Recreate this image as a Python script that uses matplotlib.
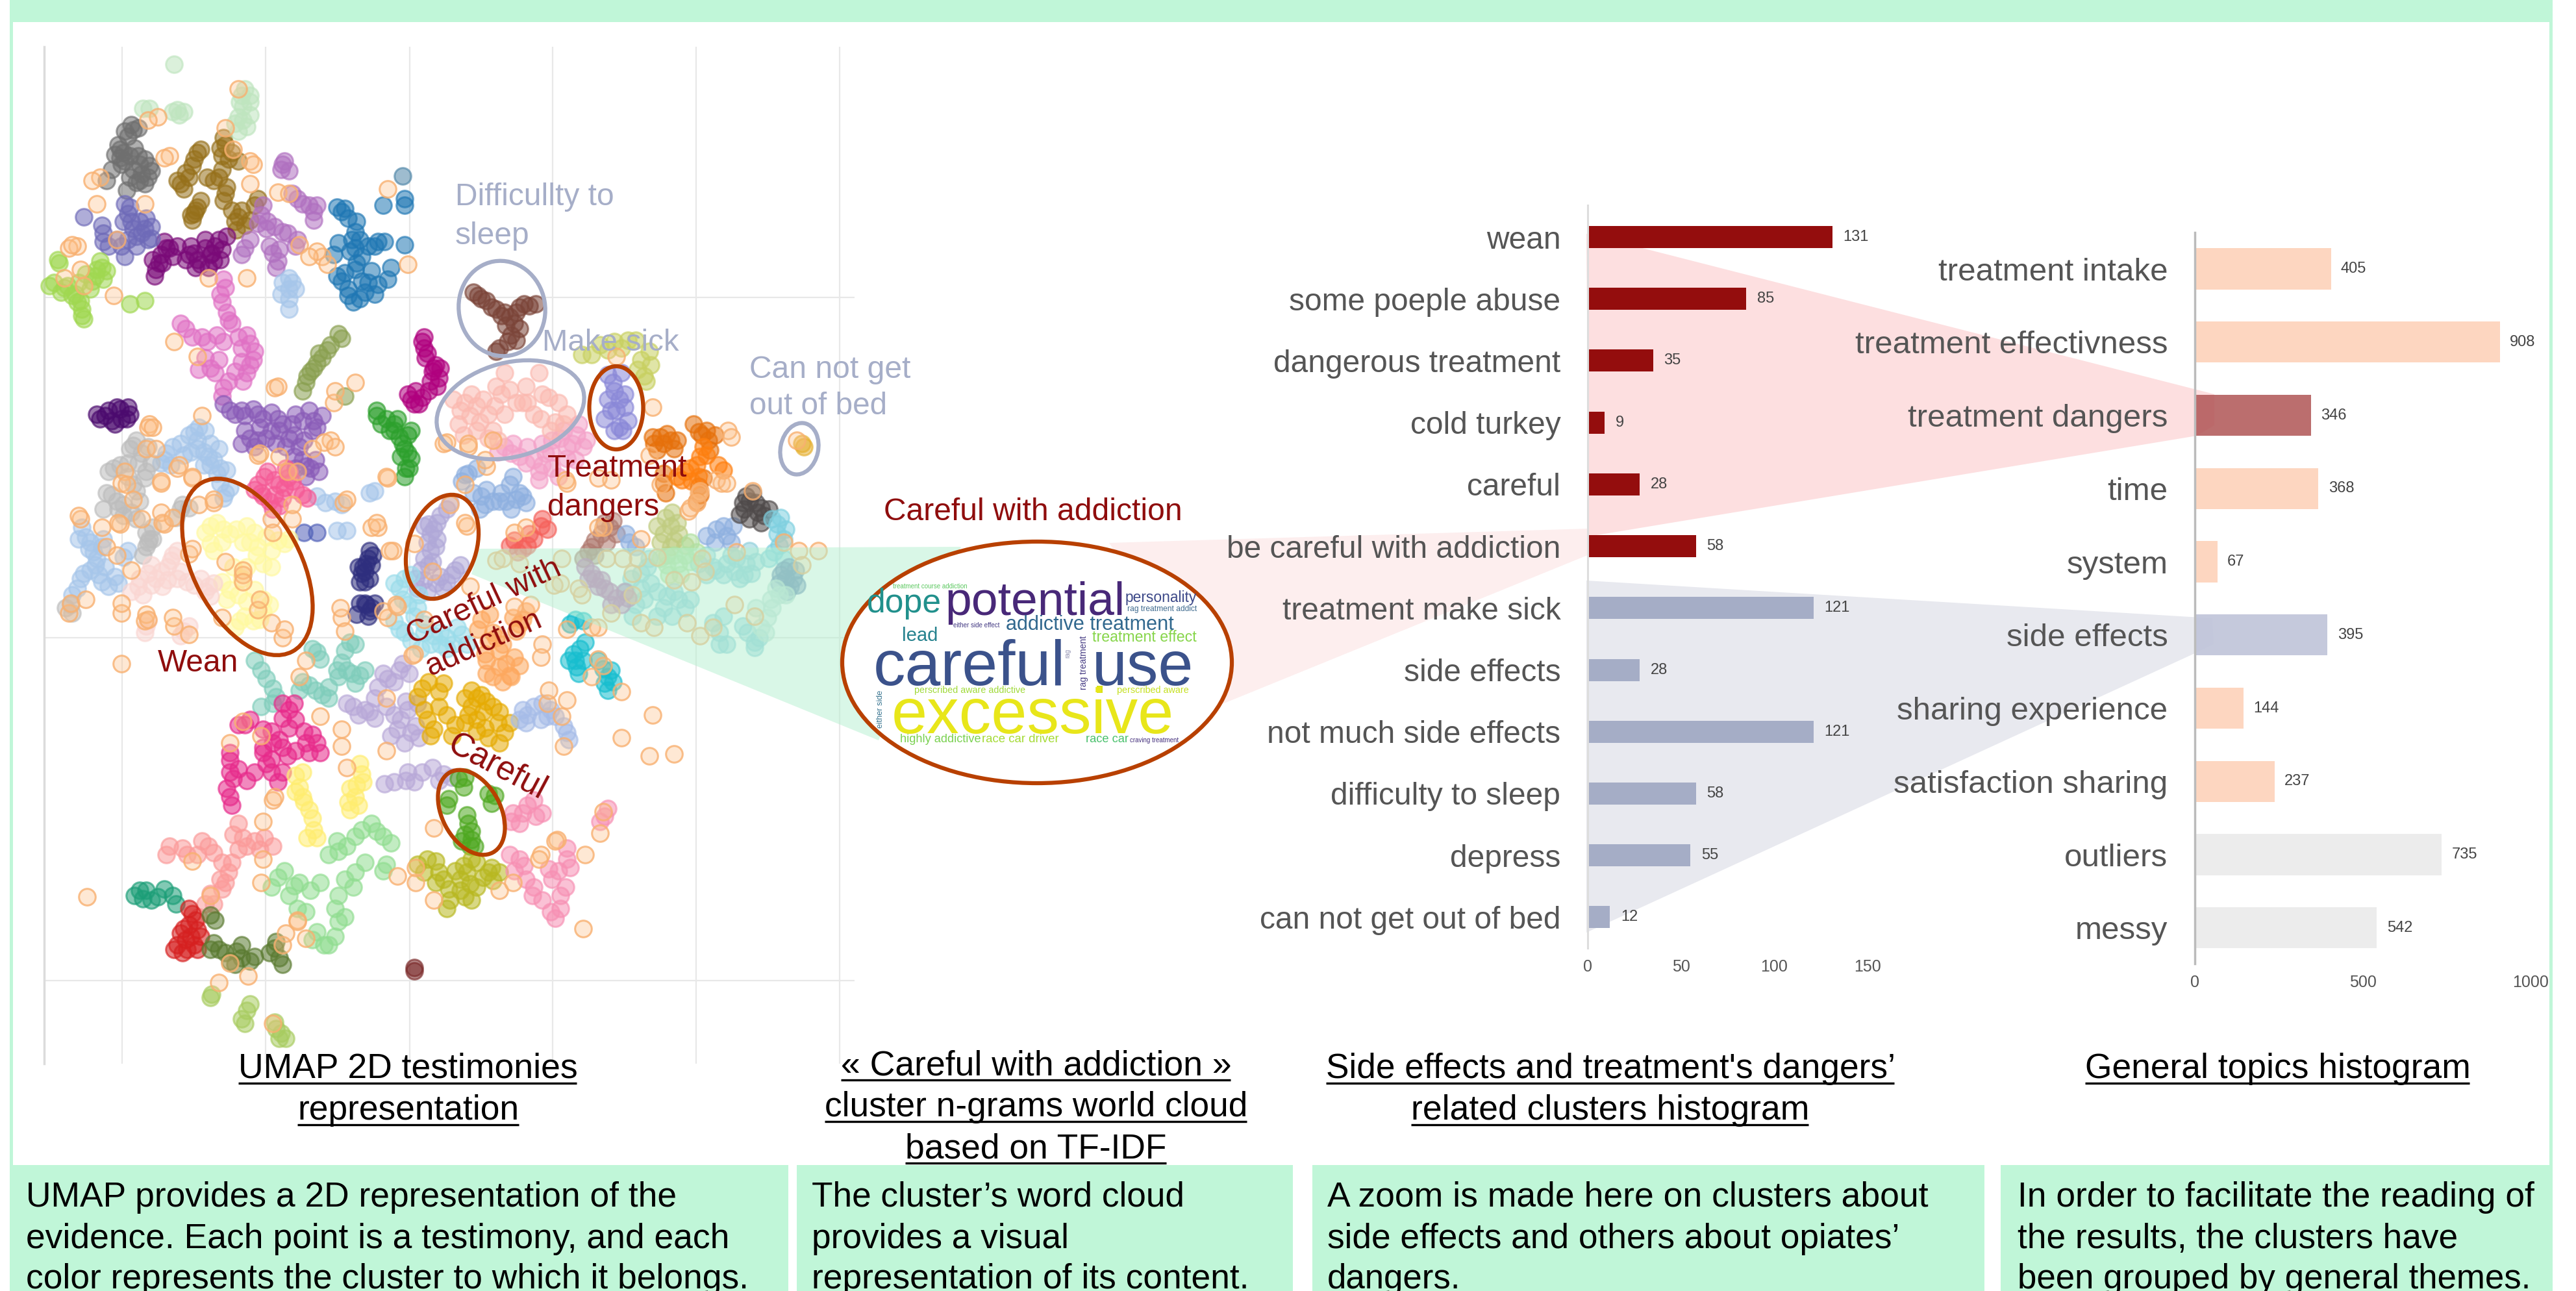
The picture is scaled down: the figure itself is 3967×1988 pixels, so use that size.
import matplotlib
matplotlib.use("Agg")
import matplotlib.pyplot as plt
from matplotlib.colors import to_rgba
from matplotlib.patches import Ellipse, Polygon, Rectangle

plt.rcParams['font.family'] = ['Liberation Sans', 'DejaVu Sans']

W, H = 3967, 1988

# umap clusters
gray_dark = [(81,79),(78,83),(73,91),(76,98),(81,103),(86,106),(83,111),(91,101),(73,96),(88,112),(82,90),(85,100),(80,76),(84,78),(76,80),(72,88),(70,94),(75,93),(79,95),(84,95),(88,97),(92,104),(79,108),(85,110),(90,108),(74,100),(68,103),(65,110),(77,116)]
gold_brown = [(120,93),(117,101),(110,112),(130,110),(137,88),(139,97),(145,98),(137,118),(120,126),(117,134),(145,132),(149,137),(157,121),(135,95),(115,108),(143,135),(118,130),(118,97),(122,91),(113,105),(108,110),(112,115),(126,108),(133,108),(136,84),(134,90),(141,93),(135,103),(138,114),(136,122),(122,122),(119,128),(116,131),(141,128),(147,128),(152,134),(155,125),(144,140)]
dark_magenta = [(101,151),(95,164),(105,156),(118,154),(125,151),(133,146),(130,159),(122,161),(98,155),(108,150),(113,158),(128,155),(135,152),(97,160),(93,158),(94,168),(100,147),(99,160),(103,151),(116,150),(120,158),(125,146),(131,150),(129,154),(134,158),(138,144),(127,163),(119,163),(115,155)]
slate_purple = [(51,132),(62,137),(63,147),(76,124),(78,130),(78,146),(88,139),(90,146),(76,156),(83,144),(85,135),(92,138),(80,135),(81,139),(86,142),(83,150),(74,150),(71,146),(89,133),(92,145),(79,126),(75,135),(63,142),(66,150)]
orchid = [(172,100),(173,98),(171,103),(181,121),(191,129),(191,134),(159,131),(162,139),(172,141),(149,151),(166,154),(169,159),(181,146),(157,136),(176,104),(178,118),(184,124),(188,125),(193,125),(160,125),(163,135),(167,138),(175,142),(180,150),(152,146),(147,155),(164,150),(170,152),(168,163)]
blue = [(208,129),(216,141),(216,151),(233,125),(246,125),(203,155),(230,147),(246,149),(220,156),(208,171),(220,171),(238,163),(230,173),(215,184),(228,179),(216,164),(222,178),(212,176),(224,150),(217,135),(205,126),(210,127),(212,133),(214,146),(219,146),(213,153),(206,148),(217,160),(210,166),(205,168),(212,180),(224,172),(219,182),(226,165),(236,170),(234,147),(228,150),(246,121)]
steel = [(245,107)]
light_blue = [(176,169),(176,176),(171,179),(176,188),(178,172),(110,270),(120,268),(128,270),(133,273),(127,278),(134,285),(137,300),(101,276),(98,282),(124,283),(115,265),(125,262),(225,300),(228,299),(193,302),(198,306),(204,305),(208,307),(205,323),(211,323),(50,321),(54,334),(58,344),(51,349),(62,354),(70,351),(75,339),(63,328),(59,340),(47,358),(105,272),(112,277),(116,275),(120,273),(124,275),(130,280),(128,283),(132,288),(138,286),(136,303),(140,297),(134,294),(118,263),(121,260),(100,280),(104,283),(52,327),(55,330),(57,336),(60,350),(49,352),(55,347),(64,345),(66,357),(72,355),(62,333),(78,335),(48,328),(44,362),(176,182),(172,172),(180,176)]
lime = [(35,158),(36,160),(59,164),(56,171),(63,170),(30,174),(39,175),(47,184),(51,194),(79,185),(88,183),(62,163),(52,167),(44,180),(50,188),(33,172),(37,178),(41,174),(46,179),(49,183),(50,192),(58,168),(61,159),(65,165),(55,176),(48,172)]
pale_green = [(106,39),(91,66),(108,67),(112,68),(147,58),(152,58),(145,71),(150,77),(148,65),(87,66),(105,68),(109,70),(149,54),(146,62),(152,62),(143,75),(148,73),(152,70),(145,80)]
pink_orchid = [(137,175),(135,184),(139,195),(110,197),(123,205),(132,204),(150,204),(152,209),(154,219),(128,224),(133,219),(150,227),(139,232),(135,241),(136,170),(134,179),(138,190),(141,197),(113,200),(117,205),(126,208),(136,208),(145,205),(147,212),(155,214),(147,220),(152,222),(125,218),(121,225),(131,227),(136,236),(143,226),(148,232)]
olive = [(206,203),(201,210),(196,218),(191,224),(187,229),(184,238),(210,241),(208,206),(199,213),(193,221),(189,226),(186,233),(194,215)]
deep_purple = [(64,253),(71,248),(79,252),(74,255),(68,256),(61,255),(66,250),(73,249),(77,255),(70,258),(78,248),(59,252)]
med_purple = [(140,250),(149,253),(157,252),(169,255),(184,256),(191,256),(196,253),(152,267),(162,267),(176,267),(182,272),(184,280),(189,285),(170,262),(178,258),(158,260),(190,262),(186,290),(136,246),(143,252),(147,250),(154,249),(160,255),(165,251),(172,258),(180,252),(188,250),(193,260),(149,262),(147,270),(155,272),(165,262),(168,270),(174,272),(179,265),(185,268),(179,278),(180,285),(186,284),(192,280),(194,287),(157,268)]
silver = [(81,271),(86,276),(69,285),(84,282),(89,287),(81,295),(68,301),(63,310),(75,307),(80,312),(89,324),(89,333),(110,310),(93,328),(43,368),(83,268),(79,273),(90,272),(73,283),(66,287),(78,282),(92,282),(88,291),(83,299),(78,290),(71,305),(75,314),(65,300),(72,310),(83,316),(85,305),(91,328),(93,321),(87,338),(90,330),(107,315),(111,307),(115,309),(44,373),(40,370)]
hot_pink = [(157,295),(161,290),(175,291),(173,297),(167,301),(184,301),(164,305),(170,295),(155,298),(159,300),(163,287),(167,292),(176,287),(178,293),(172,303),(180,298),(187,303),(166,310),(170,308),(160,302),(174,285)]
royal = [(185,324),(193,324)]
pale_yellow = [(128,320),(128,331),(140,325),(155,324),(157,333),(173,331),(160,343),(142,345),(140,359),(155,359),(146,378),(160,372),(154,378),(135,330),(148,330),(125,324),(132,318),(130,335),(136,322),(144,322),(150,320),(152,330),(162,327),(165,335),(169,329),(176,328),(156,338),(165,345),(150,345),(147,352),(135,354),(138,365),(145,362),(150,366),(160,365),(143,382),(149,375),(158,377),(164,368)]
pale_pink = [(84,357),(90,349),(102,345),(105,338),(102,353),(114,354),(127,357),(128,363),(89,381),(112,384),(95,352),(110,348),(80,360),(85,352),(92,356),(98,348),(99,357),(104,341),(108,335),(108,352),(118,356),(122,352),(125,360),(130,355),(87,362),(88,385),(90,378),(110,387),(115,381),(92,344)]
navy = [(225,335),(223,343),(220,349),(222,354),(224,340),(222,348),(223,368),(217,374),(225,372),(222,367),(227,338),(221,345),(219,354),(226,344),(218,345),(225,352),(226,370),(219,367),(224,375),(228,367)]
lilac_blue = [(272,310),(261,319),(262,325),(262,335),(256,347),(258,353),(277,347),(272,354),(266,328),(268,351),(268,314),(274,306),(264,322),(258,320),(266,318),(260,330),(265,333),(258,340),(263,342),(253,352),(254,358),(260,360),(275,350),(280,344),(265,355),(270,358),(261,344)]
salmon_red = [(329,320),(313,329),(318,334),(325,328),(310,332),(315,336),(321,332),(330,316),(333,322),(322,325)]
brown_pink = [(371,321),(362,329),(358,336),(366,325),(368,318),(373,317),(375,325),(360,333),(369,330),(355,340),(362,338)]
corn = [(283,289),(293,302),(310,295),(314,304),(295,307),(304,305),(285,288),(308,305),(318,302),(383,330),(430,326),(440,320),(442,326),(436,322),(290,285),(281,293),(288,300),(296,298),(300,305),(292,310),(312,290),(316,300),(311,310),(320,306),(305,300),(435,330),(446,320),(445,330),(381,325),(387,333)]
charcoal = [(456,305),(461,312),(465,314),(453,310),(454,302),(458,300),(452,306),(460,306),(463,309),(456,316),(463,318),(468,310),(450,313)]
sky = [(473,319),(477,328),(471,336),(470,316),(475,315),(478,322),(473,325),(474,332),(468,340),(477,340)]
khaki_pale = [(408,320),(404,325),(413,325),(408,333),(405,315),(409,312),(412,318),(402,330),(417,332),(400,320),(406,338),(410,329)]
teal_pale = [(390,349),(390,358),(387,368),(406,363),(413,365),(434,345),(442,343),(454,343),(457,349),(450,352),(434,379),(438,392),(452,381),(459,391),(459,394),(395,340),(384,352),(394,345),(396,355),(392,365),(381,360),(385,375),(400,360),(404,370),(410,360),(420,365),(430,350),(436,347),(440,350),(447,348),(448,340),(453,350),(460,342),(456,335),(445,338),(430,338),(425,343),(400,375),(438,385),(442,392),(455,385),(462,388),(440,375),(417,370),(409,375)]
green_pale = [(406,344),(413,343),(417,338),(402,340),(410,338),(420,342),(414,350),(407,350),(420,330),(424,336)]
mauve = [(360,349),(364,357),(375,364),(362,352),(368,358),(378,368),(356,345),(358,352),(366,353),(371,360),(380,360),(372,368),(382,364)]
slate = [(478,352),(481,357),(477,347),(483,352),(480,345),(475,350),(484,347),(479,360),(485,356),(474,355)]
mint_pale = [(469,365),(467,376),(472,358),(463,382),(470,370),(474,362),(460,370),(478,362),(466,385)]
cyan = [(356,391),(349,398),(351,406),(367,407),(370,412),(370,420),(350,377),(355,378),(353,395),(346,402),(350,402),(355,402),(364,402),(372,408),(368,416),(373,415),(352,410),(347,380)]
aqua = [(243,358),(254,370),(243,383),(262,392),(272,388),(281,386),(258,380),(268,392),(250,350),(255,362),(240,355),(246,352),(248,368),(252,375),(246,385),(250,390),(258,385),(264,387),(276,392),(284,392),(268,385),(240,378),(245,365),(256,395),(272,395),(278,382)]
orange_soft = [(293,377),(295,398),(304,396),(304,406),(310,411),(318,377),(314,384),(300,385),(296,410),(298,374),(291,383),(297,390),(302,388),(296,402),(306,392),(308,404),(313,400),(300,412),(306,415),(316,380),(312,376),(320,372),(311,412),(316,405)]
orange_dark = [(404,270),(425,263),(431,268),(402,266),(410,273),(404,294),(425,296),(426,301),(430,262),(408,268),(398,270),(400,274),(406,264),(412,268),(422,258),(427,265),(435,265),(432,274),(397,266),(404,288),(405,300),(424,305),(428,291)]
orange = [(426,278),(417,287),(437,283),(425,290),(424,283),(430,277),(421,293),(415,292),(440,286),(428,272),(412,290),(420,285)]
pink = [(307,272),(321,272),(341,267),(351,265),(328,287),(345,272),(335,275),(350,280),(325,280),(355,272),(303,275),(312,270),(316,278),(330,270),(336,268),(343,262),(348,270),(352,258),(330,283),(336,285),(345,279),(340,290),(357,268),(328,292),(332,276),(320,282),(311,276)]
salmon_pale = [(280,250),(290,247),(297,252),(307,227),(328,227),(314,245),(334,242),(338,257),(345,252),(290,262),(297,267),(305,240),(325,252),(276,243),(283,245),(286,253),(279,258),(292,257),(287,240),(294,243),(302,235),(301,247),(307,252),(310,237),(318,245),(320,235),(321,245),(330,240),(340,245),(329,255),(343,258),(335,262),(300,262),(303,268),(282,265)]
brown = [(291,180),(299,187),(307,190),(316,187),(326,185),(313,197),(311,204),(304,212),(296,183),(310,193),(293,182),(302,188),(305,192),(308,198),(314,190),(319,185),(322,186),(316,200),(309,208),(302,214),(314,207),(288,178)]
magenta = [(258,212),(262,232),(250,243),(257,242),(264,224),(259,218),(267,230),(257,208),(260,215),(258,205),(263,226),(268,224),(266,235),(261,238),(253,238),(248,240),(255,246),(252,246),(265,222)]
green = [(229,253),(240,258),(248,265),(248,276),(247,285),(235,255),(245,270),(229,250),(232,258),(237,262),(242,255),(243,266),(250,262),(246,273),(250,279),(244,278),(246,290),(249,285),(240,262)]
periwinkle = [(373,233),(377,243),(377,260),(380,248),(372,250),(370,228),(378,227),(374,238),(380,240),(370,243),(375,250),(382,256),(368,255),(374,262),(379,262)]
khaki = [(360,216),(382,207),(395,214),(392,229),(370,213),(354,216),(365,210),(374,208),(378,212),(387,207),(390,219),(396,222),(393,232),(388,225)]
amber = [(489,272),(488,270)]
aqua_green = [(159,408),(166,419),(184,415),(193,397),(213,391),(211,408),(196,423),(206,412),(216,416),(159,430),(155,402),(162,413),(168,424),(182,420),(188,417),(190,395),(195,401),(210,396),(216,392),(208,403),(214,410),(200,418),(192,420),(200,425),(205,408),(219,411),(222,408),(166,428)]
lilac = [(236,413),(243,408),(215,430),(225,433),(247,427),(242,444),(250,446),(222,432),(247,475),(257,470),(270,471),(240,476),(230,418),(233,410),(240,415),(228,425),(245,404),(249,410),(211,428),(218,435),(228,437),(235,430),(240,435),(248,432),(254,428),(244,438),(238,448),(246,452),(255,449),(253,442),(234,477),(248,470),(263,467),(267,475),(252,476),(275,473)]
gold = [(257,419),(267,421),(260,438),(277,441),(287,430),(294,433),(304,433),(297,449),(307,446),(267,430),(290,438),(290,425),(254,424),(261,415),(270,416),(258,432),(264,444),(272,435),(275,448),(283,425),(285,435),(287,420),(293,423),(296,427),(300,430),(295,443),(303,440),(310,440),(304,452),(262,448),(290,445),(283,440)]
blue_lilac = [(321,435),(329,438),(345,446),(325,430),(318,432),(320,440),(330,428),(333,436),(335,432),(338,436),(316,438),(343,442),(346,450)]
deep_pink = [(176,432),(176,443),(149,441),(166,452),(186,452),(193,452),(140,463),(162,465),(169,476),(142,474),(140,485),(175,460),(155,470),(170,450),(172,428),(179,428),(180,438),(172,437),(145,441),(152,438),(160,444),(165,445),(160,455),(172,455),(180,457),(185,445),(190,447),(195,458),(188,458),(140,458),(145,468),(160,458),(165,462),(172,470),(140,470),(138,480),(141,490),(150,475),(165,470)]
yellow = [(220,471),(216,485),(213,493),(182,479),(188,493),(191,505),(217,478),(219,465),(221,476),(213,480),(218,490),(212,488),(180,472),(184,470),(180,482),(185,488),(190,498),(187,510),(193,510),(184,485)]
grass = [(282,479),(299,489),(272,490),(285,501),(287,511),(286,515),(279,474),(283,473),(297,483),(301,484),(273,486),(284,496),(287,506),(283,508),(289,515),(281,512)]
olive_yellow = [(260,523),(267,531),(284,531),(287,523),(280,542),(274,548),(297,531),(304,531),(280,535),(290,540),(254,526),(258,531),(265,524),(270,535),(277,530),(282,527),(286,538),(294,534),(283,546),(273,541),(265,537),(299,528),(290,525),(272,553),(287,548),(300,536)]
rose = [(321,490),(316,501),(316,523),(334,529),(345,523),(324,545),(338,559),(341,545),(368,497),(330,495),(340,530),(318,495),(325,487),(326,497),(310,520),(313,530),(320,535),(325,540),(330,548),(335,555),(341,553),(344,540),(345,516),(347,528),(336,535),(311,500),(370,492),(365,500),(319,527),(312,495)]
salmon = [(101,520),(111,516),(127,515),(139,531),(145,501),(155,512),(166,515),(135,525),(125,550),(103,515),(114,520),(120,520),(123,512),(130,519),(142,508),(148,510),(150,515),(158,517),(161,510),(137,537),(134,535),(141,525),(128,544),(130,550),(145,517),(121,558),(135,541)]
light_green = [(169,534),(179,539),(189,542),(206,518),(216,509),(226,501),(233,509),(235,526),(216,531),(206,545),(206,561),(193,567),(200,575),(173,530),(165,540),(176,545),(182,537),(195,537),(200,520),(205,512),(211,515),(220,505),(229,506),(238,513),(222,525),(210,535),(215,540),(204,553),(210,558),(197,575),(190,572),(204,570),(181,553),(186,555),(233,530)]
teal_dark = [(85,542),(96,546),(105,545),(89,542),(82,545),(92,548),(100,541),(107,550),(87,547)]
red = [(117,556),(113,572),(108,575),(118,575),(115,563),(115,553),(119,560),(112,565),(110,568),(116,570),(106,578),(111,580),(120,578),(122,570),(120,566),(114,578)]
moss = [(130,574),(144,579),(155,582),(167,577),(172,587),(140,585),(133,578),(128,578),(147,575),(147,583),(152,585),(164,580),(168,573),(170,583),(137,580),(143,587),(128,557),(131,560)]
maroon = [(252,589),(252,591)]
leaf = [(129,605),(150,615),(149,623),(171,629),(168,626),(128,607),(152,611),(147,620),(167,622),(174,632),(170,632)]
peach_noise = [(145,54),(96,71),(137,78),(152,98),(103,95),(61,108),(88,124),(47,150),(42,151),(150,169),(127,169),(169,117),(236,115),(248,161),(69,180),(51,174),(196,156),(182,149),(199,161),(106,208),(120,217),(167,236),(216,233),(203,245),(123,253),(91,258),(201,268),(157,277),(236,291),(230,321),(209,306),(98,294),(108,285),(117,291),(130,306),(76,287),(73,319),(49,316),(100,319),(115,337),(137,342),(148,350),(157,371),(135,376),(74,373),(42,373),(172,388),(88,378),(106,381),(285,272),(345,294),(419,311),(443,262),(397,248),(375,217),(270,270),(296,284),(372,292),(439,294),(284,320),(208,376),(236,376),(283,318),(302,341),(341,355),(369,340),(388,340),(418,379),(447,368),(459,375),(426,387),(390,379),(364,382),(330,392),(486,335),(498,335),(477,330),(420,309),(436,292),(458,299),(74,404),(53,546),(355,565),(397,435),(410,459),(329,400),(333,428),(343,454),(235,457),(208,454),(211,467),(166,487),(160,500),(159,537),(242,533),(264,504),(356,520),(367,494),(365,507),(339,511),(329,520),(253,537),(133,598),(151,594),(174,568),(166,623),(181,560),(186,571),(140,452),(159,448),(117,524),(485,268),(344,292),(364,291),(442,294),(426,299),(424,306),(402,295),(445,266),(272,269),(285,270),(295,280),(300,268),(283,295),(313,324),(320,321),(316,343),(306,340),(342,340),(337,356),(367,321),(364,321),(390,328),(379,340),(400,339),(427,340),(448,336),(488,344),(429,348),(421,354),(410,353),(385,349),(385,362),(354,362),(352,358),(372,373),(398,382),(434,382),(239,335),(252,331),(263,348),(286,357),(274,307),(241,368),(258,377),(252,398),(313,369),(323,368),(334,420),(342,436),(364,401),(360,412),(345,383),(360,382),(378,421),(109,283),(117,290),(98,293),(158,276),(170,278),(197,269),(190,273),(235,290),(211,304),(226,321),(229,318),(207,370),(233,372),(242,369),(237,335),(210,384),(186,402),(182,412),(148,439),(195,436),(208,444),(235,425),(251,399),(165,316),(166,324),(178,316),(178,307),(175,287),(181,287),(121,307),(130,304),(117,334),(148,347),(148,354),(158,365),(165,379),(173,383),(89,374),(90,377),(105,376),(74,367),(80,347),(86,316),(48,314),(72,318),(62,321),(65,333),(71,338),(43,367),(52,365),(98,312),(99,318),(105,315),(74,294),(77,295),(81,304),(89,273),(95,273),(115,386),(90,260),(93,260),(167,485),(128,545),(160,523),(253,528),(264,548),(304,542),(312,537),(328,523),(338,512),(140,586),(172,575),(181,561),(345,426),(367,405),(395,460),(378,449),(59,124),(56,110),(90,73),(100,96),(152,112),(176,118),(193,153),(188,156),(142,91),(154,100),(71,146),(44,149),(49,164),(39,169),(169,235),(204,238),(204,272),(395,277),(425,300)]

clusters = [steel, gray_dark, gold_brown, dark_magenta, slate_purple, orchid, blue, light_blue, lime, pale_green, pink_orchid, olive, deep_purple, med_purple, silver, hot_pink, royal, pale_yellow, pale_pink, navy, lilac_blue, salmon_red, brown_pink, corn, charcoal, sky, khaki_pale, teal_pale, green_pale, mauve, slate, mint_pale, cyan, aqua, orange_soft, orange_dark, orange, pink, salmon_pale, brown, magenta, green, periwinkle, khaki, amber, aqua_green, lilac, gold, blue_lilac, deep_pink, yellow, grass, olive_yellow, rose, salmon, light_green, teal_dark, red, moss, maroon, leaf]
cluster_colors = ['#4f86a8','#6f6f6f','#96701a','#7a0a78','#6e6ab8','#b070c0','#1f77b4','#a6c6ea','#a0d850','#bfe5bf','#e070c4','#8aa050','#4b0a6e','#8a5cb8','#bdbdbd','#f55a96','#5060b8','#fff9a0','#fad6d2','#2e2e7e','#b0a8d8','#f5605a','#b07a70','#8eb0e0','#4f4a4a','#7fd0e0','#c0cc80','#8fd0dc','#b0e0a0','#c070b0','#6f90b8','#c0e0d8','#17becf','#9adcea','#fda85e','#e6700a','#ff7f0e','#f4a0c8','#fbb9b0','#7b4438','#b0007e','#2ca02c','#8a88d8','#c8d060','#e6b030','#7fcdbb','#b8a8d8','#e6ab02','#a6bce8','#e7298a','#ffed6f','#4ea820','#b8b820','#f78fb3','#fb9a99','#90dd90','#1b9e77','#d62020','#5a7a30','#7b2a2a','#a8cc60']
grid_x = [74.3, 161.7, 249.4, 336.4, 423.7, 511]
grid_y = [181, 388, 597]

# histogram of side effect and danger clusters
side_labels = ['wean','some poeple abuse','dangerous treatment','cold turkey','careful','be careful with addiction','treatment make sick','side effects','not much side effects','difficulty to sleep','depress','can not get out of bed']
side_values = [131, 85, 35, 9, 28, 58, 121, 28, 121, 58, 55, 12]
side_colors = ['#940d0d']*6 + ['#a5adc6']*6
side_ticks = [0, 50, 100, 150]

# histogram of general topics
topic_labels = ['treatment intake','treatment effectivness','treatment dangers','time','system','side effects','sharing experience','satisfaction sharing','outliers','messy']
topic_values = [405, 908, 346, 368, 67, 395, 144, 237, 735, 542]
topic_colors = ['#fdd6c0','#fdd6c0','#b05555','#fdd6c0','#fdd6c0','#bfc4d9','#fdd6c0','#fdd6c0','#ececec','#ececec']
topic_ticks = [0, 500, 1000]

# word cloud: word, left, right, baseline, colour
cloud_words = ['excessive','careful','use','potential','dope','personality','rag treatment addict','addictive treatment','either side effect','lead','treatment effect','treatment course addiction','perscribed aware addictive','perscribed aware','highly addictive','race car driver','race car','craving treatment']
cloud_left = [1373,1345,1682,1455,1335,1733,1736,1549,1468,1389,1682,1375,1408,1720,1386,1512,1672,1740]
cloud_right = [1807,1641,1838,1731,1450,1843,1843,1807,1539,1444,1842,1490,1577,1830,1510,1631,1738,1815]
cloud_base = [1129,1055,1055,947,943,927,941,970,966,987,988,906,1067,1067,1143,1143,1143,1143]
cloud_colors = ['#e8e61a','#3b528b','#3b528b','#482878','#21908c','#3e4a89','#3e6a8e','#31688e','#443a83','#26828e','#86d549','#5ec962','#a0da39','#c5e021','#7ad151','#a5db36','#4ac16d','#46327e']

caption_lines = ['UMAP 2D testimonies','representation','\u00ab Careful with addiction \u00bb','cluster n-grams world cloud','based on TF-IDF',"Side effects and treatment's dangers\u2019",'related clusters histogram','General topics histogram']
caption_left = [367,458,1295,1270,1394,2042,2173,3211]
caption_right = [888,799,1895,1920,1796,2917,2785,3803]
caption_under = [1668,1732,1663,1727,1791,1668,1732,1668]

box_left = [15,1227,2021,3081]
box_right = [1214,1991,3056,3931]
box_text = [['UMAP provides a 2D representation of the','evidence. Each point is a testimony, and each','color represents the cluster to which it belongs.'],
            ['The cluster\u2019s word cloud','provides a visual','representation of its content.'],
            ['A zoom is made here on clusters about','side effects and others about opiates\u2019','dangers.'],
            ['In order to facilitate the reading of','the results, the clusters have','been grouped by general themes.']]
box_text_x = [40,1250,2044,3107]
box_text_w = [[1000,1080,1112],[573,395,672],[923,880,205],[795,677,790]]

MINT = '#c0f6d8'
DARK_RED = '#8f0d0d'
PALE = '#a6aec8'
RUST = '#b84000'


def axes_px(x0, y0, x1, y1, z):
    return fig.add_axes([x0/W, 1-y1/H, (x1-x0)/W, (y1-y0)/H], zorder=z)


def fit_text(ax, x0, x1, y, s, color='black', va='baseline', rotation=0):
    t = ax.text(x0, y, s, color=color, fontsize=30, va=va, ha='left')
    w = t.get_window_extent(fig.canvas.get_renderer()).width
    t.set_fontsize(30*(x1-x0)/w)
    if rotation:
        t.set_rotation(rotation)
        t.set_rotation_mode('anchor')
        t.set_position(((x0+x1)/2, y))
        t.set_ha('center')
        t.set_va('center')
    return t


fig = plt.figure(figsize=(W/100, H/100), dpi=100, facecolor='white')

# mint frame
bg = axes_px(0, 0, W, H, 0)
bg.set_xlim(0, W)
bg.set_ylim(H, 0)
bg.axis('off')
bg.add_patch(Rectangle((15, 0), 3916, 34, color=MINT, lw=0))
bg.add_patch(Rectangle((15, 0), 5, 1800, color=MINT, lw=0))
bg.add_patch(Rectangle((3926, 0), 5, 1800, color=MINT, lw=0))
bg.text(108, -11, 'g', fontsize=38, color='black', va='baseline')
for l, r in zip(box_left, box_right):
    bg.add_patch(Rectangle((l, 1794), r-l, H-1794, color=MINT, lw=0))

# umap scatter
ax = axes_px(68, 72, 1316, 1638, 1)
ax.patch.set_alpha(0)
for pts, col in zip(clusters, cluster_colors):
    xs = [p[0] for p in pts]
    ys = [p[1] for p in pts]
    ax.scatter(xs, ys, s=340, facecolor=to_rgba(col, 0.55), edgecolor=to_rgba(col, 0.65), linewidth=2.2, clip_on=False, zorder=3)
ax.scatter([p[0] for p in peach_noise], [p[1] for p in peach_noise], s=340,
           facecolor=to_rgba('#fdbf85', 0.35), edgecolor=to_rgba('#f8b070', 0.8), linewidth=2.2, clip_on=False, zorder=4)
ax.set_xlim(26.9, 520)
ax.set_ylim(647.4, 28.5)
ax.set_xticks(grid_x)
ax.set_yticks(grid_y)
ax.tick_params(length=0, labelbottom=False, labelleft=False)
ax.grid(color='#e8e8e8', lw=1.6)
ax.set_axisbelow(True)
for s in ['top', 'right', 'bottom']:
    ax.spines[s].set_visible(False)
ax.spines['left'].set_color('#dcdcdc')
ax.spines['left'].set_linewidth(2.5)

# wedges, circles, annotations and word cloud in pixels
ov = axes_px(0, 0, W, H, 2)
ov.set_xlim(0, W)
ov.set_ylim(H, 0)
ov.axis('off')
ov.add_patch(Polygon([(738, 845), (1480, 842), (1353, 1140), (726, 884)], color='#b5f0d0', alpha=0.5, lw=0))
ov.add_patch(Polygon([(1708, 836), (2447, 814), (2447, 854), (1880, 1085)], color='#fdeeee', lw=0))
ov.add_patch(Polygon([(2443, 360), (3410, 607), (3410, 655), (3383, 671), (2447, 826)], color='#fddfe0', lw=0))
ov.add_patch(Polygon([(2443, 894), (3407, 952), (3409, 992), (3380, 1006), (2443, 1436)], color='#e8e9ef', lw=0))

ov.add_patch(Ellipse((773, 475), 133, 147, angle=-10, fill=False, ec=PALE, lw=4.5))
ov.add_patch(Ellipse((786, 631), 232, 145, angle=-15, fill=False, ec=PALE, lw=4.5))
ov.add_patch(Ellipse((949, 628), 83, 128, fill=False, ec=RUST, lw=4.5))
ov.add_patch(Ellipse((1231, 691), 58, 80, angle=12, fill=False, ec=PALE, lw=4.5))
ov.add_patch(Ellipse((381, 873), 295, 165, angle=62, fill=False, ec=RUST, lw=4.5))
ov.add_patch(Ellipse((681, 842), 165, 105, angle=-72, fill=False, ec=RUST, lw=4.5))
ov.add_patch(Ellipse((726, 1251), 140, 90, angle=62, fill=False, ec=RUST, lw=4.5))
ov.add_patch(Ellipse((1597, 1020), 600, 372, fc='white', ec=RUST, lw=4.5))

fit_text(ov, 701, 944, 316, 'Difficullty to', PALE)
fit_text(ov, 701, 815, 376, 'sleep', PALE)
fit_text(ov, 835, 1045, 540, 'Make sick', PALE)
fit_text(ov, 1154, 1402, 582, 'Can not get', PALE)
fit_text(ov, 1154, 1366, 638, 'out of bed', PALE)
fit_text(ov, 843, 1058, 734, 'Treatment', DARK_RED)
fit_text(ov, 843, 1015, 794, 'dangers', DARK_RED)
fit_text(ov, 243, 367, 1034, 'Wean', DARK_RED)
fit_text(ov, 1361, 1819, 801, 'Careful with addiction', DARK_RED)
fit_text(ov, 617, 874, 927, 'Careful with', DARK_RED, rotation=25)
fit_text(ov, 650, 840, 991, 'addiction', DARK_RED, rotation=24)
fit_text(ov, 683, 847, 1181, 'Careful', DARK_RED, rotation=-28)

for word, l, r, b, col in zip(cloud_words, cloud_left, cloud_right, cloud_base, cloud_colors):
    fit_text(ov, l, r, b, word, col)
ov.text(1669, 1020, 'rag treatment', color='#443a83', fontsize=10, rotation=90, ha='center', va='center')
ov.text(1644, 1006, 'rag', color='#8f8fb0', fontsize=7, rotation=90, ha='center', va='center')
ov.text(1356, 1092, 'either side', color='#35728e', fontsize=9, rotation=90, ha='center', va='center')
ov.add_patch(Rectangle((1689, 1056), 9, 11, color='#d8e219', lw=0))

for s, l, r, u in zip(caption_lines, caption_left, caption_right, caption_under):
    fit_text(ov, l, r, u-8, s)
    ov.plot([l, r], [u, u], color='black', lw=2.4, solid_capstyle='butt')

for lines, x, widths in zip(box_text, box_text_x, box_text_w):
    for s, y, w in zip(lines, [1858, 1922, 1984], widths):
        fit_text(ov, x, x+w, y, s)

# side effects histogram
a1 = axes_px(2445, 316, 2948, 1460, 3)
a1.patch.set_alpha(0)
c1 = a1.barh(range(len(side_values)), side_values, height=0.357, color=side_colors)
a1.bar_label(c1, padding=12, fontsize=17, color='#444444')
a1.set_xlim(0, 175)
a1.set_ylim(11.5, -0.515)
a1.set_yticks(range(len(side_labels)))
a1.set_yticklabels(side_labels, fontsize=34.5, color='#555555')
a1.set_xticks(side_ticks)
a1.tick_params(axis='y', length=0, pad=30)
a1.tick_params(axis='x', length=0, pad=12, labelsize=18, labelcolor='#555555')
for s in ['top', 'right', 'bottom']:
    a1.spines[s].set_visible(False)
a1.spines['left'].set_color('#dddddd')
a1.spines['left'].set_linewidth(2.2)

# general topics histogram
a2 = axes_px(3380, 358, 3900, 1484, 3)
a2.patch.set_alpha(0)
c2 = a2.barh(range(len(topic_values)), topic_values, height=0.56, color=topic_colors)
c2[2].set_alpha(0.85)
c2[5].set_alpha(0.9)
a2.bar_label(c2, padding=11, fontsize=17, color='#444444')
a2.set_xlim(0, 1005)
a2.set_ylim(9.49, -0.497)
a2.set_yticks(range(len(topic_labels)))
a2.set_yticklabels(topic_labels, fontsize=35.5, color='#555555')
a2.set_xticks(topic_ticks)
a2.tick_params(axis='y', length=0, pad=30)
a2.tick_params(axis='x', length=0, pad=12, labelsize=18, labelcolor='#555555')
for s in ['top', 'right', 'bottom']:
    a2.spines[s].set_visible(False)
a2.spines['left'].set_color('#bbbbbb')
a2.spines['left'].set_linewidth(2.5)

fig.savefig('out.png', dpi=100)
